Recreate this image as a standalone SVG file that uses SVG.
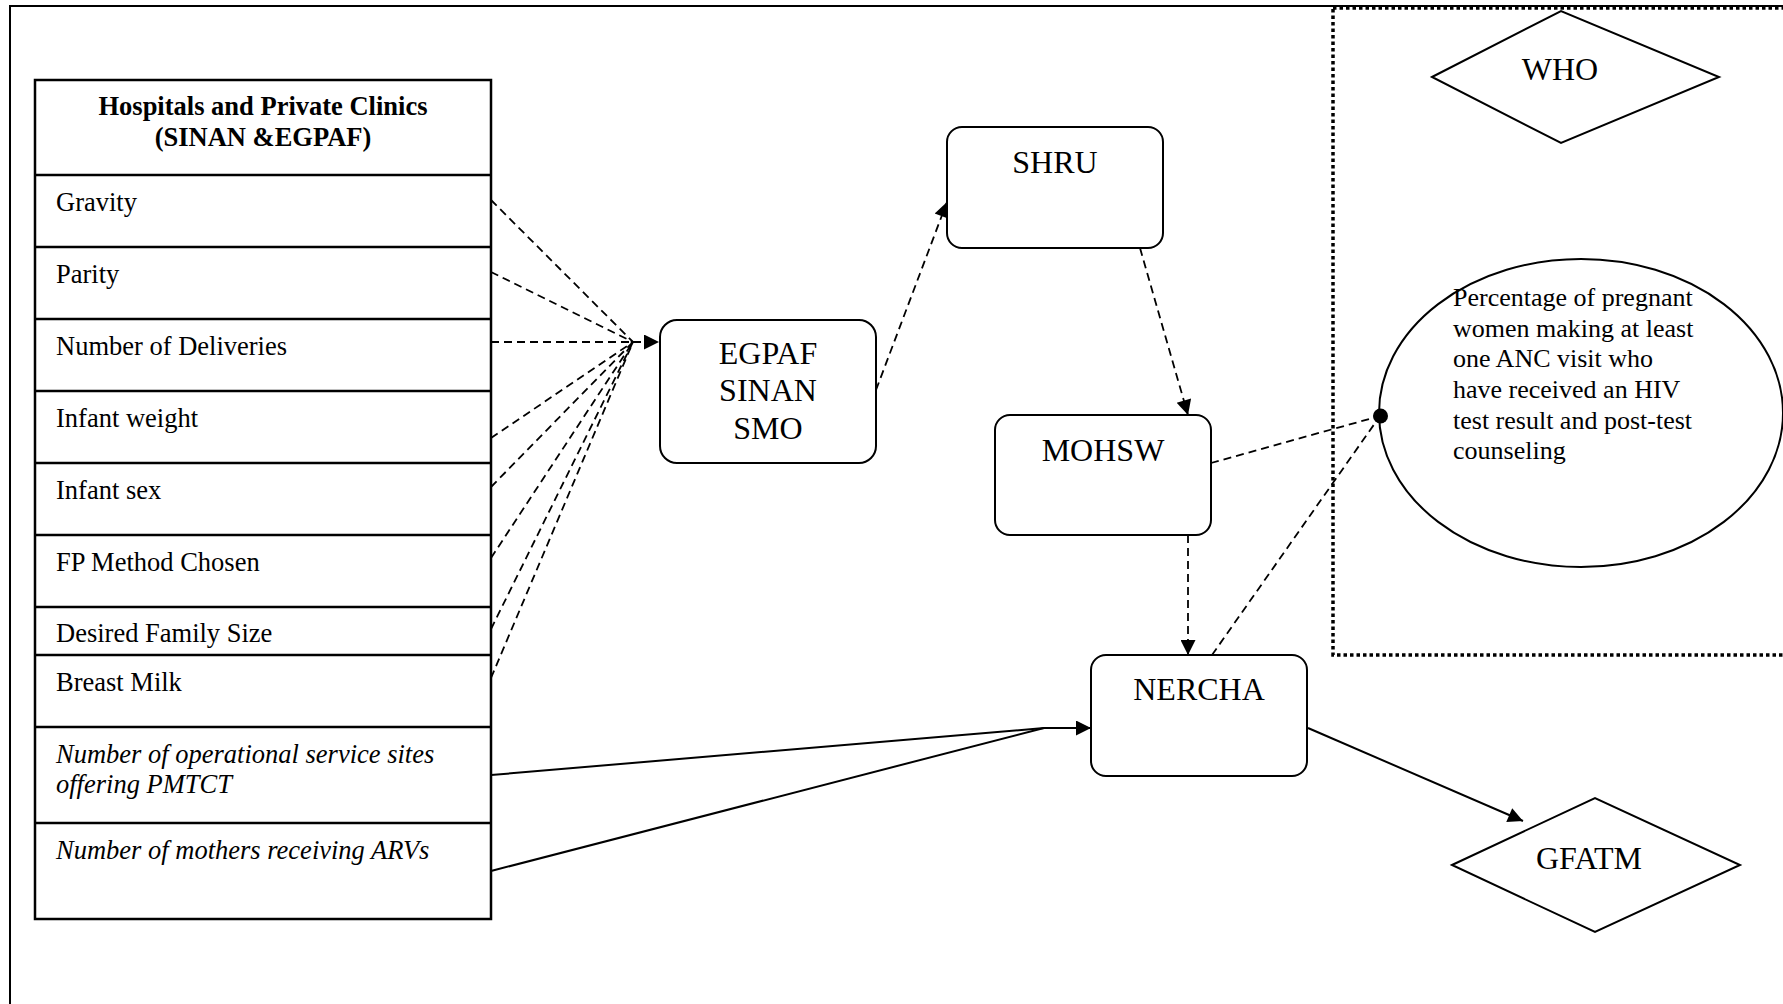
<svg xmlns="http://www.w3.org/2000/svg" width="1783" height="1004" viewBox="0 0 1783 1004">
<style>
text{font-family:"Liberation Serif","Times New Roman",serif;fill:#000}
.row{font-size:26.5px}
.it{font-style:italic}
.hd{font-size:26.5px;font-weight:bold}
.lbl{font-size:32px}
.el{font-size:26px}
.tl{stroke:#000;stroke-width:2.5;fill:none}
.box{fill:#fff;stroke:#000;stroke-width:2}
.dash{stroke:#000;stroke-width:1.8;fill:none;stroke-dasharray:8 5}
.solid{stroke:#000;stroke-width:2;fill:none}
</style>
<defs>
<marker id="ah" viewBox="0 0 10 10" refX="10" refY="5" markerWidth="18" markerHeight="15" markerUnits="userSpaceOnUse" orient="auto"><path d="M0,0 L10,5 L0,10 z" fill="#000"/></marker>
</defs>
<rect width="1783" height="1004" fill="#fff"/>
<g id="frame">
<polyline points="1800,6 10,6 10,1020" fill="none" stroke="#000" stroke-width="2"/>
<rect x="1333" y="8" width="470" height="647" fill="none" stroke="#000" stroke-width="3.5" stroke-dasharray="3.5 3"/>
</g>
<g id="table">
<rect x="35" y="80" width="456" height="839" class="tl" fill="#fff"/>
<g class="tl">
<line x1="35" y1="175" x2="491" y2="175"/>
<line x1="35" y1="247" x2="491" y2="247"/>
<line x1="35" y1="319" x2="491" y2="319"/>
<line x1="35" y1="391" x2="491" y2="391"/>
<line x1="35" y1="463" x2="491" y2="463"/>
<line x1="35" y1="535" x2="491" y2="535"/>
<line x1="35" y1="607" x2="491" y2="607"/>
<line x1="35" y1="655" x2="491" y2="655"/>
<line x1="35" y1="727" x2="491" y2="727"/>
<line x1="35" y1="823" x2="491" y2="823"/>
</g>
<g id="header"><text class="hd" x="263" y="115" text-anchor="middle">Hospitals and Private Clinics</text><text class="hd" x="263" y="146" text-anchor="middle">(SINAN &amp;EGPAF)</text></g>
<g id="row-gravity"><text class="row" x="56" y="211">Gravity</text></g>
<g id="row-parity"><text class="row" x="56" y="283">Parity</text></g>
<g id="row-deliveries"><text class="row" x="56" y="355">Number of Deliveries</text></g>
<g id="row-weight"><text class="row" x="56" y="427">Infant weight</text></g>
<g id="row-sex"><text class="row" x="56" y="499">Infant sex</text></g>
<g id="row-fp"><text class="row" x="56" y="571">FP Method Chosen</text></g>
<g id="row-family"><text class="row" x="56" y="642">Desired Family Size</text></g>
<g id="row-milk"><text class="row" x="56" y="691">Breast Milk</text></g>
<g id="row-sites"><text class="row it" x="56" y="763">Number of operational service sites</text><text class="row it" x="56" y="793">offering PMTCT</text></g>
<g id="row-mothers"><text class="row it" x="56" y="859">Number of mothers receiving ARVs</text></g>
</g>
<g id="connectors">
<polyline class="dash" points="491,200 633,342"/>
<polyline class="dash" points="491,272 633,342"/>
<polyline class="dash" points="491,342 633,342"/>
<polyline class="dash" points="491,438 633,342"/>
<polyline class="dash" points="491,487 633,342"/>
<polyline class="dash" points="491,558 633,342"/>
<polyline class="dash" points="491,629 633,342"/>
<polyline class="dash" points="491,678 633,342"/>
<line class="dash" x1="633" y1="342" x2="659" y2="342" marker-end="url(#ah)"/>
<line class="dash" x1="876" y1="390" x2="947" y2="202" marker-end="url(#ah)"/>
<line class="dash" x1="1140" y1="248" x2="1188" y2="415" marker-end="url(#ah)"/>
<line class="dash" x1="1211" y1="463" x2="1380" y2="416"/>
<line class="dash" x1="1188" y1="535" x2="1188" y2="655" marker-end="url(#ah)"/>
<line class="dash" x1="1212" y1="655" x2="1380" y2="416"/>
<polyline class="solid" points="491,775 1044,728"/>
<polyline class="solid" points="491,871 1044,728"/>
<line class="solid" x1="1044" y1="728" x2="1091" y2="728" marker-end="url(#ah)"/>
<line class="solid" x1="1308" y1="728" x2="1523" y2="821" marker-end="url(#ah)"/>
<circle cx="1380.5" cy="416" r="7.5" fill="#000"/>
</g>
<g id="egpaf"><rect class="box" x="660" y="320" width="216" height="143" rx="17"/><text class="lbl" x="768" y="364" text-anchor="middle">EGPAF</text><text class="lbl" x="768" y="401" text-anchor="middle">SINAN</text><text class="lbl" x="768" y="439" text-anchor="middle">SMO</text></g>
<g id="shru"><rect class="box" x="947" y="127" width="216" height="121" rx="15"/><text class="lbl" x="1055" y="173" text-anchor="middle">SHRU</text></g>
<g id="mohsw"><rect class="box" x="995" y="415" width="216" height="120" rx="15"/><text class="lbl" x="1103" y="461" text-anchor="middle">MOHSW</text></g>
<g id="nercha"><rect class="box" x="1091" y="655" width="216" height="121" rx="15"/><text class="lbl" x="1199" y="700" text-anchor="middle">NERCHA</text></g>
<g id="who"><polygon points="1432,77 1561,11 1719,77 1561,143" fill="#fff" stroke="#000" stroke-width="2"/><text class="lbl" x="1560" y="80" text-anchor="middle">WHO</text></g>
<g id="gfatm"><polygon points="1452,865 1595,798 1740,865 1595,932" fill="#fff" stroke="#000" stroke-width="2"/><text class="lbl" x="1589" y="869" text-anchor="middle">GFATM</text></g>
<g id="indicator"><ellipse cx="1581" cy="413" rx="202" ry="154" fill="none" stroke="#000" stroke-width="2"/>
<text class="el" x="1453" y="306">Percentage of pregnant</text>
<text class="el" x="1453" y="337">women making at least</text>
<text class="el" x="1453" y="367">one ANC visit who</text>
<text class="el" x="1453" y="398">have received an HIV</text>
<text class="el" x="1453" y="429">test result and post-test</text>
<text class="el" x="1453" y="459">counseling</text>
</g>
</svg>
